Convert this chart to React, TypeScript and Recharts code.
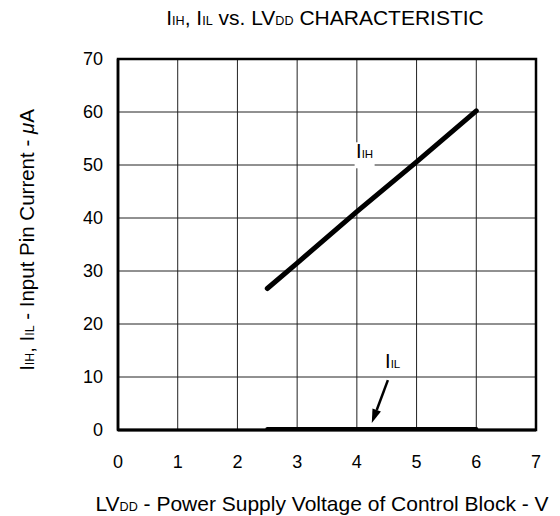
import React from "react";
import {
  LineChart,
  Line,
  XAxis,
  YAxis,
  CartesianGrid,
  ReferenceArea,
  ReferenceDot,
  ReferenceLine,
  Customized,
} from "recharts";

if (typeof document !== "undefined") {
  document.body.style.margin = "0";
}

const xTicks = [0, 1, 2, 3, 4, 5, 6, 7];
const yTicks = [0, 10, 20, 30, 40, 50, 60, 70];
const voltage = [2.5, 3, 4, 5, 6];
const iIH = [26.7, 31.5, 41.2, 50.6, 60.2];
const iIL = [0.2, 0.2, 0.2, 0.2, 0.2];

const ihLabelPos = { x: 4.13, y: 52.4 };
const ilLabelPos = { x: 4.6, y: 12.9 };
const arrowFrom = { x: 4.52, y: 9.4 };
const arrowTo = { x: 4.25, y: 1.3 };

const data = voltage.map((v, i) => ({ v, ih: iIH[i], il: iIL[i] }));

const FONT = "'Liberation Sans', Arial, Helvetica, sans-serif";
const W = 560;
const H = 516;
const SUB = 0.6;

const Sub = ({ main, sub, size }: { main: string; sub: string; size: number }) => (
  <>
    <tspan>{main}</tspan>
    <tspan fontSize={size * SUB}>{sub}</tspan>
  </>
);

const Titles = () => (
  <g fontFamily={FONT} fill="#000">
    <text x={325} y={25} textAnchor="middle" fontSize={21}>
      <Sub main="I" sub="IH" size={21} />
      <tspan>, </tspan>
      <Sub main="I" sub="IL" size={21} />
      <tspan> vs. </tspan>
      <Sub main="LV" sub="DD" size={21} />
      <tspan> CHARACTERISTIC</tspan>
    </text>
    <text x={322} y={511} textAnchor="middle" fontSize={21}>
      <Sub main="LV" sub="DD" size={21} />
      <tspan> - Power Supply Voltage of Control Block - V</tspan>
    </text>
    <text
      x={0}
      y={0}
      transform="translate(34,240) rotate(-90)"
      textAnchor="middle"
      fontSize={20.5}
    >
      <Sub main="I" sub="IH" size={20.5} />
      <tspan>, </tspan>
      <Sub main="I" sub="IL" size={20.5} />
      <tspan> - Input Pin Current - </tspan>
      <tspan fontStyle="italic">μ</tspan>
      <tspan>A</tspan>
    </text>
  </g>
);

const LabelBox = (sub: string, box: boolean) => (props: any) => {
  const { cx, cy } = props;
  return (
    <g>
      {box && <rect x={cx - 10} y={cy - 10} width={20} height={26} fill="#fff" />}
      <text x={cx} y={cy + 6} textAnchor="middle" fontFamily={FONT} fontSize={20} fill="#000">
        <tspan>I</tspan>
        <tspan fontSize={11.5}>{sub}</tspan>
      </text>
    </g>
  );
};

const ArrowShape = (props: any) => {
  const { x1, y1, x2, y2 } = props;
  const dx = x2 - x1;
  const dy = y2 - y1;
  const len = Math.sqrt(dx * dx + dy * dy);
  const ux = dx / len;
  const uy = dy / len;
  const hl = 14;
  const hw = 4.5;
  const bx = x2 - ux * hl;
  const by = y2 - uy * hl;
  const px = -uy;
  const py = ux;
  return (
    <g>
      <line x1={x1} y1={y1} x2={bx} y2={by} stroke="#000" strokeWidth={2.5} />
      <polygon
        points={`${x2},${y2} ${bx + px * hw},${by + py * hw} ${bx - px * hw},${by - py * hw}`}
        fill="#000"
      />
    </g>
  );
};

export default function App() {
  return (
    <div style={{ width: W, height: H, background: "#fff" }}>
      <LineChart
        width={W}
        height={H}
        data={data}
        margin={{ top: 59, right: 24, bottom: 46, left: 58 }}
      >
        <CartesianGrid stroke="#222" strokeWidth={1} horizontal vertical />
        <XAxis
          dataKey="v"
          type="number"
          domain={[0, 7]}
          ticks={xTicks}
          height={40}
          tickSize={0}
          tickMargin={25}
          axisLine={{ stroke: "#000", strokeWidth: 3 }}
          tickLine={false}
          tick={{ fill: "#000", fontSize: 18, fontFamily: FONT }}
          allowDecimals={false}
        />
        <YAxis
          type="number"
          domain={[0, 70]}
          ticks={yTicks}
          width={60}
          tickSize={0}
          tickMargin={15}
          axisLine={{ stroke: "#000", strokeWidth: 2.5 }}
          tickLine={false}
          tick={{ fill: "#000", fontSize: 18, fontFamily: FONT }}
        />
        <ReferenceArea
          x1={0}
          x2={7}
          y1={0}
          y2={70}
          fill="none"
          stroke="#000"
          strokeWidth={2.5}
        />
        <Line
          dataKey="ih"
          stroke="#000"
          strokeWidth={5}
          strokeLinecap="round"
          dot={false}
          isAnimationActive={false}
        />
        <Line
          dataKey="il"
          stroke="#000"
          strokeWidth={4}
          strokeLinecap="round"
          dot={false}
          isAnimationActive={false}
        />
        <ReferenceDot
          x={ihLabelPos.x}
          y={ihLabelPos.y}
          r={0}
          shape={LabelBox("IH", true)}
        />
        <ReferenceDot
          x={ilLabelPos.x}
          y={ilLabelPos.y}
          r={0}
          shape={LabelBox("IL", false)}
        />
        <ReferenceLine segment={[arrowFrom, arrowTo]} shape={ArrowShape} />
        <Customized component={Titles} />
      </LineChart>
    </div>
  );
}
